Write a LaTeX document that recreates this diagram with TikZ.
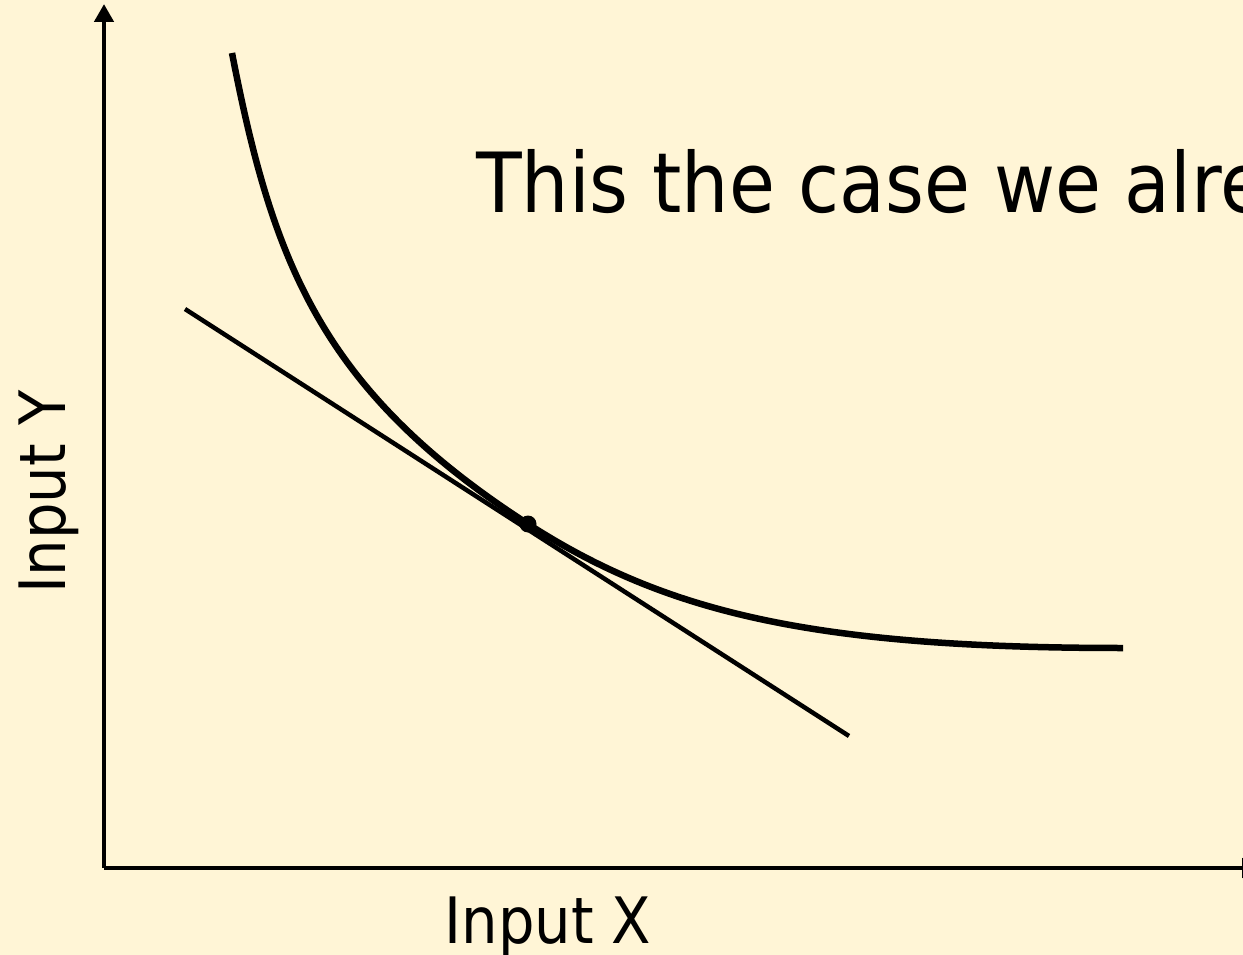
\documentclass[tikz,border=0pt]{standalone}
\usepackage{fontspec}
\setmainfont{DejaVu Sans Condensed}
\usetikzlibrary{arrows.meta}
\definecolor{fondo}{RGB}{255,245,214}
\begin{document}
\begin{tikzpicture}[x=1pt, y=-1pt]
  % Define axis, curve and label styles
  \tikzstyle{myaxis} = [line width=4.5pt, -{Triangle[width=19pt,length=18pt]}]
  \tikzstyle{mycurve} = [line width=6.5pt, line join=round]
  \tikzstyle{mytangent} = [line width=4.5pt]
  \tikzstyle{mylabel} = [inner sep=0pt, font=\fontsize{64}{72}\selectfont]

  \fill[fondo] (0,0) rectangle (1243,955);
  \useasboundingbox (0,0) rectangle (1243,955);
  \clip (0,0) rectangle (1243,955);

  % Axes
  \coordinate (origin) at (104,868);
  \coordinate (ytip) at (104,4);
  \coordinate (xtip) at (1260,868);
  \draw[myaxis] (origin) -- (ytip);
  \draw[myaxis] (origin) -- (xtip);

  % Tangent line through the point of tangency
  \coordinate (tA) at (185,309);
  \coordinate (tB) at (849,736);
  \draw[mytangent] (tA) -- (tB);
  \node[circle, fill, inner sep=0pt, minimum size=17pt] (tpoint) at (528,524) {};

  % Isoquant
  \coordinate (cstart) at (232,53);
  \coordinate (cend) at (1123,648);
  \draw[mycurve] (cstart) .. controls (273,264) and (322,391) .. (tpoint.center)
    .. controls (665,612) and (811,648) .. (cend);

  % Labels
  \node[mylabel, anchor=base] (xlabel) at (548,943) {Input X};
  \node[mylabel, anchor=base, rotate=90] (ylabel) at (65,492) {Input Y};
  \node[mylabel, anchor=base west, font=\fontsize{83}{92}\selectfont]
    (note) at (476,212) {This the case we alre};
\end{tikzpicture}
\end{document}
